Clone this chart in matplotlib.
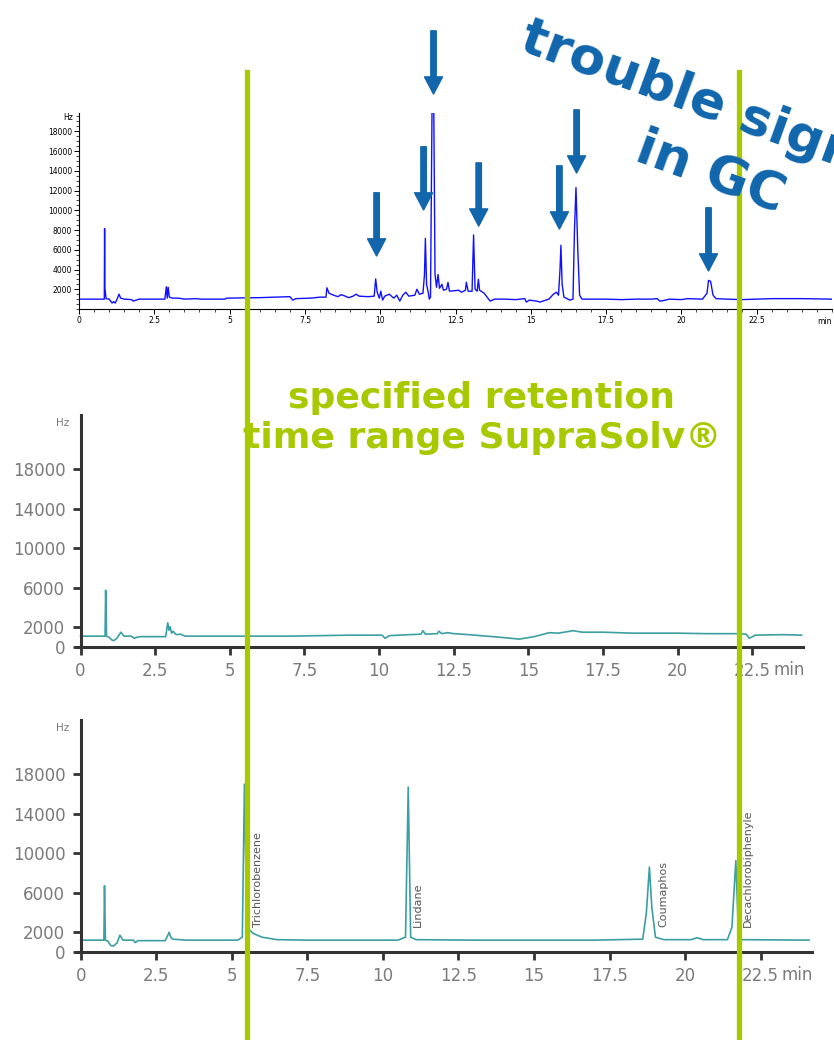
#GC chromatograms: trouble signals vs SupraSolv
import matplotlib
matplotlib.use("Agg")
import matplotlib.pyplot as plt
from matplotlib.lines import Line2D
from matplotlib.ticker import MultipleLocator

#上图：普通溶剂 (min, Hz)
top_t = [0.0, 0.84, 0.85, 0.86, 0.9, 1.0, 1.05, 1.1, 1.15, 1.2, 1.25, 1.33, 1.38, 1.5, 1.75, 1.8, 1.9, 2.0,
         2.85, 2.9, 2.93, 2.96, 3.0, 3.1, 3.3, 3.5, 3.9, 4.0, 4.85, 4.9, 6.0, 7.0, 7.1, 7.2, 7.7, 8.0, 8.2,
         8.23, 8.3, 8.45, 8.6, 8.7, 8.8, 8.95, 9.1, 9.2, 9.3, 9.6, 9.8, 9.85, 9.9, 9.97, 10.02, 10.08, 10.15,
         10.3, 10.45, 10.55, 10.65, 10.75, 10.85, 10.95, 11.15, 11.22, 11.3, 11.42, 11.47, 11.5, 11.54, 11.6,
         11.63, 11.67, 11.72, 11.78, 11.82, 11.87, 11.92, 11.97, 12.05, 12.1, 12.2, 12.25, 12.3, 12.6, 12.7,
         12.83, 12.86, 12.92, 13.05, 13.1, 13.15, 13.22, 13.26, 13.3, 13.45, 13.55, 13.65, 13.8, 14.1, 14.5,
         14.8, 14.85, 14.95, 15.2, 15.3, 15.6, 15.75, 15.85, 15.92, 15.97, 16.0, 16.04, 16.1, 16.3, 16.4,
         16.45, 16.5, 16.56, 16.62, 16.7, 17.5, 18.0, 18.5, 19.0, 19.2, 19.28, 19.4, 19.6, 20.0, 20.2, 20.7,
         20.85, 20.9, 20.97, 21.05, 21.15, 21.5, 22.0, 22.5, 23.0, 24.0, 24.98]
top_hz = [1000, 1000, 8150, 2100, 1050, 1000, 800, 600, 750, 600, 900, 1500, 1100, 1000, 950, 800, 900, 1000,
          1000, 2250, 1100, 2200, 1200, 1100, 1100, 1000, 1050, 1000, 1000, 1100, 1150, 1250, 900, 1050, 1100,
          1200, 1200, 2150, 1600, 1400, 1250, 1450, 1350, 1150, 1300, 1500, 1300, 1250, 1300, 3050, 1700, 1100,
          1800, 900, 1300, 1500, 1100, 1400, 800, 1400, 1700, 1300, 1400, 2000, 1500, 1600, 3500, 7150, 2500,
          1600, 1000, 1200, 19950, 19950, 3500, 2200, 3500, 2100, 2500, 1900, 2000, 2700, 1800, 1900, 1700,
          1900, 2700, 1800, 1800, 7500, 2000, 1800, 3000, 1900, 1600, 1200, 800, 1000, 1000, 950, 1050, 700,
          900, 800, 700, 1000, 1500, 1700, 1400, 4000, 6450, 2500, 1200, 900, 1000, 8000, 12300, 6000, 1400,
          1000, 1000, 950, 1000, 1000, 1050, 800, 850, 1000, 950, 1050, 1000, 1600, 2900, 2800, 1400, 1050,
          1000, 950, 1000, 1050, 1050, 1000]

#中图：SupraSolv 空白
mid_t = [0.0, 0.82, 0.84, 0.87, 0.95, 1.05, 1.12, 1.22, 1.35, 1.45, 1.7, 1.8, 1.9, 2.0, 2.85, 2.92, 2.96, 3.0,
         3.05, 3.1, 3.2, 3.35, 3.5, 5.5, 7.0, 8.0, 9.0, 10.1, 10.2, 10.35, 11.0, 11.4, 11.47, 11.55, 11.95,
         12.0, 12.1, 12.3, 12.5, 13.0, 14.0, 14.7, 15.2, 15.7, 16.0, 16.5, 16.8, 17.5, 18.5, 20.0, 21.0, 22.0,
         22.3, 22.4, 22.6, 23.5, 24.15]
mid_hz = [1100, 1100, 5750, 1100, 1000, 700, 650, 900, 1500, 1100, 1100, 880, 1000, 1050, 1050, 2450, 1700,
          2050, 1400, 1600, 1250, 1300, 1100, 1100, 1100, 1150, 1200, 1200, 880, 1150, 1250, 1300, 1650, 1300,
          1350, 1600, 1350, 1450, 1350, 1250, 1000, 800, 1050, 1450, 1400, 1650, 1500, 1500, 1400, 1400, 1350,
          1350, 1300, 880, 1200, 1250, 1200]

#下图：SupraSolv 加标
bot_t = [0.0, 0.77, 0.79, 0.82, 0.9, 1.0, 1.08, 1.2, 1.3, 1.4, 1.75, 1.8, 1.9, 2.8, 2.93, 2.98, 3.05, 3.5, 5.2,
         5.35, 5.42, 5.5, 5.7, 6.0, 6.5, 7.5, 10.5, 10.75, 10.84, 10.92, 11.1, 13.0, 17.0, 18.6, 18.72, 18.82,
         18.9, 19.02, 19.3, 20.2, 20.4, 20.6, 21.4, 21.55, 21.68, 21.76, 21.85, 24.1]
bot_hz = [1200, 1200, 6700, 1200, 1100, 650, 600, 900, 1700, 1200, 1200, 950, 1150, 1150, 2000, 1500, 1300,
          1200, 1200, 1500, 17000, 2500, 1900, 1500, 1250, 1200, 1200, 1500, 16700, 1500, 1250, 1200, 1200,
          1300, 4000, 8600, 4500, 1500, 1250, 1250, 1450, 1250, 1250, 2500, 9250, 2500, 1250, 1200]

peak_names = ["Trichlorobenzene", "Lindane", "Coumaphos", "Decachlorobiphenyle"]
peak_label_t = [5.86, 11.16, 19.27, 22.08]

#箭头
arrow_t = [9.88, 11.44, 11.77, 13.27, 15.95, 16.52, 20.9]
arrow_tip = [5370, 10030, 21770, 8400, 8100, 13770, 3850]
arrow_len = 6400

retention = [5.58, 22.07]

green = "#A8C800"
blue = "#1166AC"
teal = "#3C9FA2"
grey = "#7A7A7A"

fig = plt.figure(figsize=(8.34, 10.4), dpi=100)

#上图
ax1 = fig.add_axes([79 / 834, 1 - 309 / 1040, 753 / 834, 196 / 1040])
ax1.plot(top_t, top_hz, color="#1010FF", lw=1.0)
ax1.set_xlim(0, 25)
ax1.set_ylim(0, 19850)
for s in ["top", "right"]:
    ax1.spines[s].set_visible(False)
for s in ["left", "bottom"]:
    ax1.spines[s].set_linewidth(0.8)
ax1.set_xticks([0, 2.5, 5, 7.5, 10, 12.5, 15, 17.5, 20, 22.5])
ax1.set_xticklabels(["0", "2.5", "5", "7.5", "10", "12.5", "15", "17.5", "20", "22.5"])
ax1.xaxis.set_minor_locator(MultipleLocator(0.5))
ax1.set_yticks(range(2000, 19000, 2000))
ax1.yaxis.set_minor_locator(MultipleLocator(500))
ax1.tick_params(which="major", length=3.5, width=0.7, labelsize=5.5, pad=1.5)
ax1.tick_params(which="minor", length=2, width=0.5)
ax1.text(-0.008, 1.0, "Hz", transform=ax1.transAxes, ha="right", va="top", fontsize=5.5)
ax1.text(1.0, -0.04, "min", transform=ax1.transAxes, ha="right", va="top", fontsize=5.5)

for t, tip in zip(arrow_t, arrow_tip):
    ax1.annotate("", xy=(t, tip), xytext=(t, tip + arrow_len), annotation_clip=False,
                 arrowprops=dict(arrowstyle="simple,head_length=0.95,head_width=1.0,tail_width=0.3",
                                 mutation_scale=13, color=blue, shrinkA=0, shrinkB=0))


def style_panel(ax):
    for s in ["top", "right"]:
        ax.spines[s].set_visible(False)
    for s in ["left", "bottom"]:
        ax.spines[s].set_linewidth(2.2)
        ax.spines[s].set_color("#333333")
    ax.spines["left"].set_position(("data", 0))
    ax.set_xlim(-0.12, 24.2)
    ax.set_ylim(0, 23500)
    ax.set_yticks([0, 2000, 6000, 10000, 14000, 18000])
    ax.set_xticks([0, 2.5, 5, 7.5, 10, 12.5, 15, 17.5, 20, 22.5])
    ax.set_xticklabels(["0", "2.5", "5", "7.5", "10", "12.5", "15", "17.5", "20", "22.5"])
    ax.tick_params(length=6, width=2, color="#333333", labelsize=12, labelcolor=grey, pad=5)
    ax.text(-0.011, 0.985, "Hz", transform=ax.transAxes, ha="right", va="top", fontsize=7.5, color=grey)
    ax.text(23.2, -0.1, "min", transform=ax.get_xaxis_transform(), ha="left", va="center",
            fontsize=12, color=grey)


#中图
ax2 = fig.add_axes([77 / 834, 1 - 647 / 1040, 726 / 834, 232 / 1040])
ax2.plot(mid_t, mid_hz, color=teal, lw=1.2)
style_panel(ax2)

#下图
ax3 = fig.add_axes([77 / 834, 1 - 952 / 1040, 735 / 834, 232 / 1040])
ax3.plot(bot_t, bot_hz, color=teal, lw=1.2)
style_panel(ax3)
for name, t in zip(peak_names, peak_label_t):
    ax3.text(t, 2500, name, rotation=90, ha="center", va="bottom", fontsize=8, color="#555555")

#保留时间范围
fig.canvas.draw()
inv = fig.transFigure.inverted()
for t in retention:
    xf = inv.transform(ax2.transData.transform((t, 0)))[0]
    fig.add_artist(Line2D([xf, xf], [0, 1 - 72 / 1040], color=green, lw=3.8, transform=fig.transFigure))

fig.text(482 / 834, 1 - 418 / 1040, "specified retention\ntime range SupraSolv®", ha="center", va="center",
         fontsize=26, fontweight="bold", color=green, linespacing=1.2)

fig.text(518 / 834, 1 - 50 / 1040, "trouble signals", rotation=-20, rotation_mode="anchor",
         ha="left", va="baseline", fontsize=37.5, fontweight="bold", color=blue)
fig.text(633 / 834, 1 - 160 / 1040, "in GC", rotation=-20, rotation_mode="anchor",
         ha="left", va="baseline", fontsize=37.5, fontweight="bold", color=blue)

fig.savefig("out.png", dpi=100)
